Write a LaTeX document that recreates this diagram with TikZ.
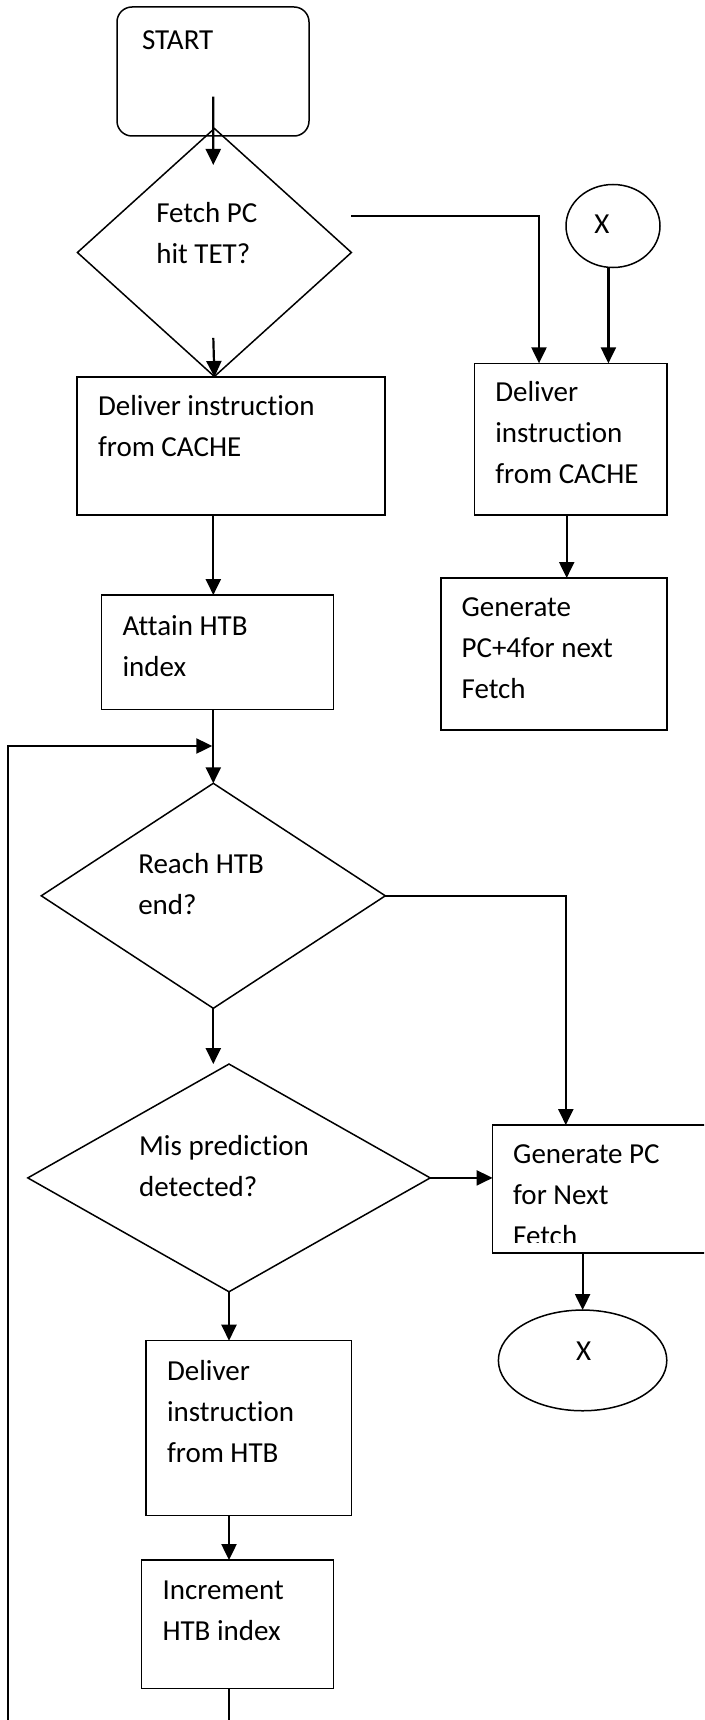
\documentclass[tikz,border=0pt]{standalone}
\usepackage{fontspec}
\setmainfont{Carlito}[Ligatures=NoCommon]
\usetikzlibrary{shapes.geometric,arrows.meta,calc}
\begin{document}
\begin{tikzpicture}[x=1pt,y=-1pt,
  box/.style={draw, line width=1.5pt, rectangle, inner sep=0pt, outer sep=0pt},
  dia/.style={draw, line width=1.5pt, diamond, inner sep=0pt, outer sep=0pt},
  oval/.style={draw, line width=1.5pt, ellipse, inner sep=0pt, outer sep=0pt},
  txt/.style={anchor=base west, inner sep=0pt, outer sep=0pt, font=\fontsize{29}{41}\selectfont},
  arr/.style={line width=2.2pt, -{Triangle[length=16pt,width=15pt]}},
  ln/.style={line width=2.2pt}]
\useasboundingbox (0,0) rectangle (704,1720);
\clip (0,0) rectangle (704,1720);
\coordinate (sx) at (213.3,0);

% nodes
\node[box, rounded corners=15pt, minimum width=192pt, minimum height=129pt] (start) at (213,71.5) {};
\node[txt] (tstart) at (142,50) {START};

\node[dia, minimum width=274pt, minimum height=248pt] (d1) at (214.4,252.5) {};
\node[txt] (td1) at (156.3,222.7) {\vtop{\hbox{Fetch PC}\hbox{hit TET?}}};

\node[box, minimum width=308pt, minimum height=138pt] (b2) at (231.2,446) {};
\node[txt] (tb2) at (98,415) {\vtop{\hbox{Deliver instruction}\hbox{from CACHE}}};

\node[oval, minimum width=94pt, minimum height=83pt] (cx1) at (613,226) {};
\node[txt, anchor=base] (tcx1) at (602,233.3) {X};

\node[box, minimum width=192.2pt, minimum height=151.7pt] (b3) at (570.7,439.2) {};
\node[txt] (tb3) at (495.3,401.7) {\vtop{\hbox{Deliver}\hbox{instruction}\hbox{from CACHE}}};

\node[box, minimum width=232pt, minimum height=114.3pt] (b4) at (217.5,652.2) {};
\node[txt] (tb4) at (122.6,635) {\vtop{\hbox{Attain HTB}\hbox{index}}};

\node[box, minimum width=225.8pt, minimum height=152pt] (b5) at (553.9,654) {};
\node[txt] (tb5) at (461.6,616) {\vtop{\hbox{Generate}\hbox{PC+4for next}\hbox{Fetch}}};

\node[dia, minimum width=344pt, minimum height=225pt] (d2) at (213.3,895.8) {};
\node[txt] (td2) at (138.3,873.3) {\vtop{\hbox{Reach HTB}\hbox{end?}}};

\node[dia, minimum width=402.4pt, minimum height=227.7pt] (d3) at (229,1177.9) {};
\node[txt] (td3) at (139.2,1155) {\vtop{\hbox{Mis prediction}\hbox{detected?}}};

\node[box, minimum width=227.4pt, minimum height=127.7pt] (b6) at (606.3,1188.9) {};
\begin{scope}
\clip (b6.north west) rectangle ($(b6.south east)+(0,-10)$);
\node[txt] (tb6) at (513.2,1163.3) {\vtop{\hbox{Generate PC}\hbox{for Next}\hbox{Fetch}}};
\end{scope}

\node[oval, minimum width=168.4pt, minimum height=100.7pt] (cx2) at (582.6,1360.4) {};
\node[txt, anchor=base] (tcx2) at (583.7,1360) {X};

\node[box, minimum width=205.6pt, minimum height=175pt] (b7) at (248.8,1428.2) {};
\node[txt] (tb7) at (167,1380.7) {\vtop{\hbox{Deliver}\hbox{instruction}\hbox{from HTB}}};

\node[box, minimum width=192.2pt, minimum height=128.3pt] (b8) at (237.5,1624.2) {};
\node[txt] (tb8) at (162.5,1599.3) {\vtop{\hbox{Increment}\hbox{HTB index}}};

\coordinate (loopin) at (212.3,746);
\coordinate (loopc) at (8,746);
\coordinate (loopb) at (8,1725);
\coordinate (bot) at (229,1725);

% connectors
\draw[arr] ($(start.center)+(0.3,25.2)$) -- ($(d1.north)+(-1.1,36.5)$);
\draw[arr] ($(d1.south)+(-1.1,-38.7)$) -- (d1.south |- b2.north);
\draw[arr] ($(d1.east)+(0,-36.5)$) -| ($(b3.north)+(-31.7,0)$);
\draw[arr] ($(cx1.south)+(-4.6,0)$) -- ($(b3.north)+(37.7,0)$);
\draw[arr] (sx |- b2.south) -- (sx |- b4.north);
\draw[arr] ($(b3.south)+(-4,0)$) -- ($(b5.north)+(12.8,0)$);
\draw[arr] (sx |- b4.south) -- (d2.north);
\draw[arr] (loopb) -- (loopc) -- (loopin);
\draw[arr] (d2.east) -| ($(b6.north)+(-40.5,0)$);
\draw[arr] (sx |- d2.south) -- (sx |- d3.north);
\draw[arr] (d3.east) -- (d3.east -| b6.west);
\draw[arr] (cx2.north |- b6.south) -- (cx2.north);
\draw[arr] (d3.south) -- (d3.south |- b7.north);
\draw[arr] (d3.south |- b7.south) -- (d3.south |- b8.north);
\draw[ln] (d3.south |- b8.south) -- (bot);
\end{tikzpicture}
\end{document}
